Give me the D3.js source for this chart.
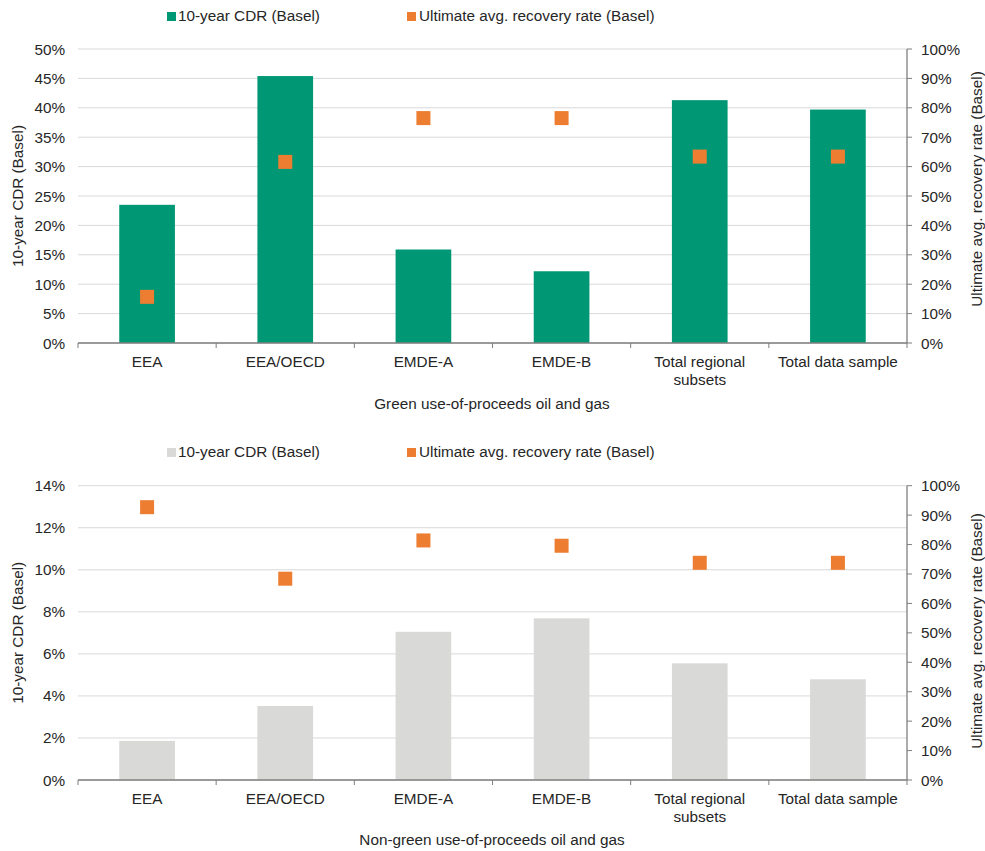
<!DOCTYPE html>
<html>
<head>
<meta charset="utf-8">
<script src="https://cdn.jsdelivr.net/npm/d3@7"></script>
<style>
  body { margin: 0; background: #fff; }
  text { font-family: "Liberation Sans", Arial, sans-serif; fill: #262626; }
</style>
</head>
<body>
<div id="chart"></div>
<script>
// categories shared by both panels
const categories = ["EEA", "EEA/OECD", "EMDE-A", "EMDE-B", "Total regional|subsets", "Total data sample"];

// green use-of-proceeds
const greenCDR = [0.235, 0.454, 0.159, 0.122, 0.413, 0.397];
const greenRecovery = [0.157, 0.616, 0.765, 0.765, 0.634, 0.634];
const greenLeftTicks = [0, 0.05, 0.10, 0.15, 0.20, 0.25, 0.30, 0.35, 0.40, 0.45, 0.50];

// non-green use-of-proceeds
const nonGreenCDR = [0.0186, 0.0352, 0.0705, 0.0769, 0.0555, 0.0479];
const nonGreenRecovery = [0.927, 0.684, 0.814, 0.796, 0.738, 0.738];
const nonGreenLeftTicks = [0, 0.02, 0.04, 0.06, 0.08, 0.10, 0.12, 0.14];

const rightTicks = [0, 0.1, 0.2, 0.3, 0.4, 0.5, 0.6, 0.7, 0.8, 0.9, 1.0];

const W = 985, H = 851;
const FS = 15.3;
const svg = d3.select("#chart").append("svg")
  .attr("width", W).attr("height", H);

const plotLeft = 78, plotRight = 907;
const orange = "#ed7d31";

function drawPanel(opt) {
  const g = svg.append("g");

  const x = d3.scaleBand()
    .domain(categories)
    .range([plotLeft, plotRight])
    .padding(0);
  const barW = x.bandwidth() * 0.403;

  const yL = d3.scaleLinear()
    .domain([0, opt.leftMax])
    .range([opt.bottom, opt.top]);
  const yR = d3.scaleLinear()
    .domain([0, 1])
    .range([opt.bottom, opt.top]);

  // legend
  const leg = g.append("g").attr("transform", "translate(0," + opt.legendY + ")");
  leg.append("rect").attr("x", 167).attr("y", -9).attr("width", 9).attr("height", 9)
    .attr("fill", opt.barColor);
  leg.append("text").attr("x", 178).attr("y", 0).attr("font-size", FS)
    .text("10-year CDR (Basel)");
  leg.append("rect").attr("x", 407).attr("y", -9).attr("width", 9).attr("height", 9)
    .attr("fill", orange);
  leg.append("text").attr("x", 419).attr("y", 0).attr("font-size", FS)
    .text("Ultimate avg. recovery rate (Basel)");

  // gridlines
  g.selectAll(".grid")
    .data(opt.leftTicks)
    .enter()
    .append("line")
      .attr("x1", plotLeft).attr("x2", plotRight)
      .attr("y1", d => yL(d)).attr("y2", d => yL(d))
      .attr("stroke", "#d9d9d9").attr("stroke-width", 1);

  // left axis labels (no line)
  g.selectAll(".ltick")
    .data(opt.leftTicks)
    .enter()
    .append("text")
      .attr("x", 65)
      .attr("y", d => yL(d) + 5.5)
      .attr("text-anchor", "end")
      .attr("font-size", FS)
      .text(d => d3.format(".0%")(d));

  // bars
  g.selectAll(".bar")
    .data(opt.cdr)
    .enter()
    .append("rect")
      .attr("x", (d, i) => x(categories[i]) + (x.bandwidth() - barW) / 2)
      .attr("y", d => yL(d))
      .attr("width", barW)
      .attr("height", d => yL(0) - yL(d))
      .attr("fill", opt.barColor);

  // recovery markers
  const ms = 14;
  g.selectAll(".marker")
    .data(opt.recovery)
    .enter()
    .append("rect")
      .attr("x", (d, i) => x(categories[i]) + x.bandwidth() / 2 - ms / 2)
      .attr("y", d => yR(d) - ms / 2)
      .attr("width", ms).attr("height", ms)
      .attr("fill", orange);

  // x axis
  const xAxis = g.append("g").attr("transform", "translate(0," + opt.bottom + ")");
  xAxis.append("line").attr("x1", plotLeft).attr("x2", plotRight)
    .attr("y1", 0).attr("y2", 0).attr("stroke", "#7f7f7f").attr("stroke-width", 1.3);
  const bounds = categories.map(c => x(c)).concat([plotRight]);
  xAxis.selectAll(".xt")
    .data(bounds)
    .enter()
    .append("line")
      .attr("x1", d => d).attr("x2", d => d)
      .attr("y1", 0).attr("y2", 5)
      .attr("stroke", "#7f7f7f");
  const xl = xAxis.selectAll(".xl")
    .data(categories)
    .enter()
    .append("text")
      .attr("x", d => x(d) + x.bandwidth() / 2)
      .attr("y", 24)
      .attr("text-anchor", "middle")
      .attr("font-size", FS);
  xl.each(function(d) {
    const parts = d.split("|");
    const t = d3.select(this);
    parts.forEach((p, k) => {
      t.append("tspan").attr("x", x(d) + x.bandwidth() / 2)
        .attr("dy", k === 0 ? 0 : 17.5).text(p);
    });
  });

  // right axis
  const rAxis = g.append("g").attr("transform", "translate(" + plotRight + ",0)");
  rAxis.append("line").attr("x1", 0).attr("x2", 0)
    .attr("y1", opt.top).attr("y2", opt.bottom)
    .attr("stroke", "#7f7f7f").attr("stroke-width", 1.3);
  rAxis.selectAll(".rt")
    .data(rightTicks)
    .enter()
    .append("line")
      .attr("x1", 0).attr("x2", 5)
      .attr("y1", d => yR(d)).attr("y2", d => yR(d))
      .attr("stroke", "#7f7f7f");
  rAxis.selectAll(".rl")
    .data(rightTicks)
    .enter()
    .append("text")
      .attr("x", 14)
      .attr("y", d => yR(d) + 5.5)
      .attr("font-size", FS)
      .text(d => d3.format(".0%")(d));

  // axis titles
  const midY = (opt.top + opt.bottom) / 2;
  g.append("text")
    .attr("transform", "translate(23," + midY + ") rotate(-90)")
    .attr("text-anchor", "middle")
    .attr("font-size", FS)
    .text("10-year CDR (Basel)");
  g.append("text")
    .attr("transform", "translate(982," + opt.rightTitleY + ") rotate(-90)")
    .attr("text-anchor", "middle")
    .attr("font-size", FS)
    .text("Ultimate avg. recovery rate (Basel)");

  // panel caption
  g.append("text")
    .attr("x", 492)
    .attr("y", opt.captionY)
    .attr("text-anchor", "middle")
    .attr("font-size", FS)
    .text(opt.caption);
}

drawPanel({
  top: 49, bottom: 343, leftMax: 0.5,
  leftTicks: greenLeftTicks,
  cdr: greenCDR, recovery: greenRecovery,
  barColor: "#009874",
  legendY: 21, captionY: 409, rightTitleY: 189,
  caption: "Green use-of-proceeds oil and gas"
});

drawPanel({
  top: 485.7, bottom: 780, leftMax: 0.14,
  leftTicks: nonGreenLeftTicks,
  cdr: nonGreenCDR, recovery: nonGreenRecovery,
  barColor: "#d9dad7",
  legendY: 457, captionY: 845, rightTitleY: 631,
  caption: "Non-green use-of-proceeds oil and gas"
});
</script>
</body>
</html>
